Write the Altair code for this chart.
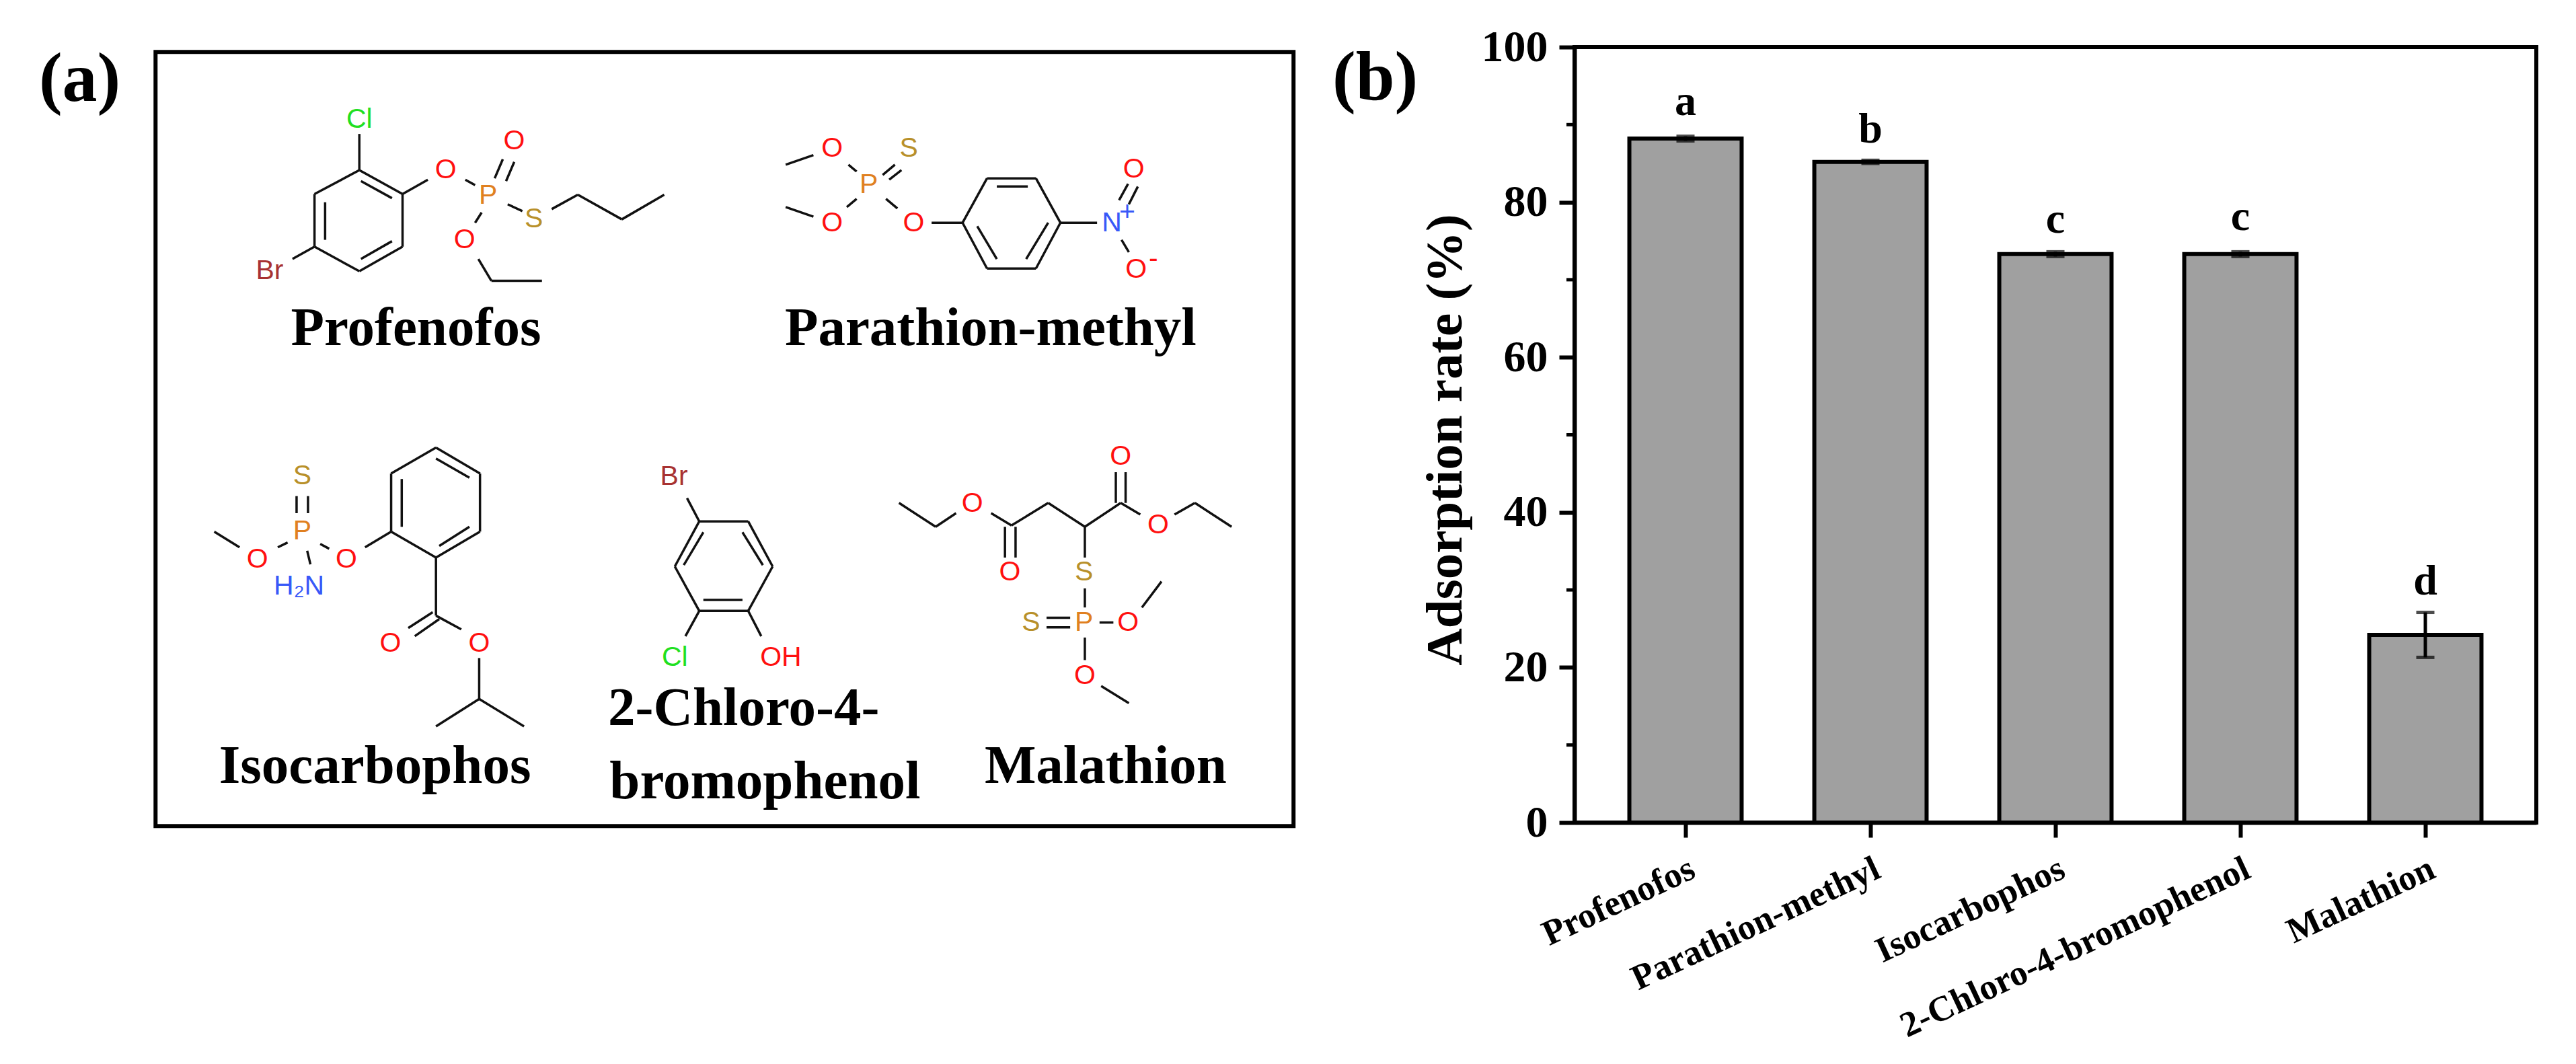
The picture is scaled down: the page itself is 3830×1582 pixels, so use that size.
import altair as alt
import pandas as pd

# ---- panel (b) data ----
compounds = ["Profenofos", "Parathion-methyl", "Isocarbophos", "2-Chloro-4-bromophenol", "Malathion"]
rates = [88.2, 85.2, 73.3, 73.3, 24.2]
errors = [0.3, 0.2, 0.3, 0.3, 2.9]
letters = ["a", "b", "c", "c", "d"]
letter_y = [91.2, 87.7, 76.1, 76.4, 29.4]
major_ticks = [0, 20, 40, 60, 80, 100]
minor_ticks = [10, 30, 50, 70, 90]

# ---- panel (a) data: structural drawing, in its own drawing units ----
bonds = [
    # Profenofos
    (440,248,493,283),(493,283,493,360),(493,360,440,396),(440,396,385,360),(385,360,385,283),(385,283,440,248),
    (442,264,480,289),(480,352,442,378),(398,350,398,295),
    (440,248,440,195),(385,360,358,378),(493,283,524,262),(570,262,582,270),
    (606,260,616,232),(620,264,630,236),(590,310,582,325),(622,298,640,308),
    (676,305,708,284),(708,284,762,320),(762,320,814,284),(586,378,602,410),(602,410,664,410),
    # Parathion-methyl
    (963,240,997,226),(1040,240,1050,250),(1082,255,1097,240),(1090,262,1105,248),
    (963,302,997,316),(1038,302,1050,290),(1086,290,1100,304),(1142,325,1180,325),
    (1180,325,1210,260),(1210,260,1270,260),(1270,260,1300,325),(1300,325,1270,392),(1270,392,1210,392),(1210,392,1180,325),
    (1222,272,1260,272),(1198,330,1222,378),(1285,325,1258,378),
    (1300,325,1345,325),(1372,292,1383,268),(1384,298,1395,272),(1375,350,1384,368),
    # Isocarbophos
    (262,777,293,800),(340,800,352,793),(363,725,363,750),(377,725,377,750),(376,805,380,825),
    (392,795,403,802),(447,800,479,777),
    (534,654,588,692),(588,692,588,777),(588,777,534,815),(534,815,479,777),(479,777,479,692),(479,692,534,654),
    (534,670,575,698),(575,770,538,798),(492,770,492,700),
    (534,815,534,900),(530,895,500,918),(538,905,508,930),(534,900,565,920),(587,962,587,1022),
    (587,1022,534,1062),(587,1022,642,1062),
    # 2-Chloro-4-bromophenol
    (857,762,917,762),(917,762,947,828),(947,828,917,893),(917,893,857,893),(857,893,827,828),(827,828,857,762),
    (838,826,862,778),(935,826,910,778),(862,877,910,877),
    (857,762,842,728),(857,893,840,930),(917,893,933,930),
    # Malathion
    (1102,735,1147,770),(1147,770,1172,750),(1215,750,1240,768),(1232,770,1232,815),(1245,770,1245,815),
    (1240,768,1285,735),(1285,735,1330,770),(1330,770,1374,735),(1368,735,1368,690),(1380,735,1380,690),
    (1374,735,1398,752),(1440,752,1465,735),(1465,735,1510,770),(1330,770,1330,815),(1330,860,1330,888),
    (1283,903,1312,903),(1283,917,1312,917),(1348,910,1365,910),(1400,888,1424,850),(1330,932,1330,965),
    (1350,1003,1384,1028),
]
RED, GREEN, ORANGE, GOLD, BROWN, BLUE = "#ff1010", "#20e020", "#e08020", "#b8902a", "#a83232", "#3858f8"
atoms = [
    ("Cl",440,174,GREEN),("O",546,248,RED),("O",630,206,RED),("P",598,285,ORANGE),("S",654,320,GOLD),("O",569,350,RED),("Br",330,396,BROWN),
    ("O",1020,217,RED),("S",1114,217,GOLD),("P",1065,270,ORANGE),("O",1020,326,RED),("O",1120,326,RED),("N",1363,326,BLUE),("+",1382,310,BLUE),("O",1390,247,RED),("O",1393,394,RED),("-",1414,378,RED),
    ("O",315,818,RED),("P",370,777,ORANGE),("S",370,696,GOLD),("H₂N",366,857,BLUE),("O",424,818,RED),("O",478,941,RED),("O",587,941,RED),
    ("Br",826,697,BROWN),("Cl",827,962,GREEN),("OH",957,962,RED),
    ("O",1192,736,RED),("O",1238,837,RED),("O",1374,667,RED),("O",1420,768,RED),("S",1329,837,GOLD),("P",1329,910,ORANGE),("S",1264,910,GOLD),("O",1383,910,RED),("O",1330,988,RED),
]
names = [
    ("Profenofos",356,504),("Parathion-methyl",962,504),("Isocarbophos",268,1145),
    ("2-Chloro-4-",745,1060),("bromophenol",747,1167),("Malathion",1207,1145),
]
frame = [(190,75,1586,1208)]
panel_a_label = [("(a)",47,147)]

SERIF = "Liberation Serif"
SANS = "Liberation Sans"
SX, SY = 1.212, 1.016
LEFT_W, TOP, BOTTOM = 2000, 69, 1222
PLOT_W, PLOT_H = 1430, BOTTOM - TOP

xs = alt.Scale(domain=[8 / SX, (8 + LEFT_W) / SX], nice=False, zero=False)
ys = alt.Scale(domain=[BOTTOM / SY, TOP / SY], nice=False, zero=False)
X = lambda f: alt.X(f, type="quantitative", scale=xs, axis=None)
Y = lambda f: alt.Y(f, type="quantitative", scale=ys, axis=None)

bond_df = pd.DataFrame(bonds, columns=["x", "y", "x2", "y2"])
atom_df = pd.DataFrame(atoms, columns=["t", "x", "y", "c"])
name_df = pd.DataFrame(names, columns=["t", "x", "y"])
frame_df = pd.DataFrame(frame, columns=["x", "y", "x2", "y2"])
a_df = pd.DataFrame(panel_a_label, columns=["t", "x", "y"])

frame_layer = alt.Chart(frame_df).mark_rect(fill="white", stroke="black", strokeWidth=6).encode(
    x=X("x"), y=Y("y"), x2="x2", y2="y2")
bond_layer = alt.Chart(bond_df).mark_rule(color="#111111", strokeWidth=3.5).encode(
    x=X("x"), y=Y("y"), x2="x2", y2="y2")
atom_layer = alt.Chart(atom_df).mark_text(font=SANS, fontSize=41, align="center", baseline="middle").encode(
    x=X("x"), y=Y("y"), text="t", color=alt.Color("c:N", scale=None))
name_layer = alt.Chart(name_df).mark_text(font=SERIF, fontSize=81, fontWeight="bold", align="left", baseline="alphabetic", color="black").encode(
    x=X("x"), y=Y("y"), text="t")
a_layer = alt.Chart(a_df).mark_text(font=SERIF, fontSize=104, fontWeight="bold", align="left", baseline="alphabetic", color="black").encode(
    x=X("x"), y=Y("y"), text="t")

left = alt.layer(frame_layer, bond_layer, atom_layer, name_layer, a_layer).properties(
    width=LEFT_W, height=PLOT_H, view=alt.ViewBackground(stroke="transparent"))

# ---- panel (b) ----
bar_df = pd.DataFrame({"name": compounds, "rate": rates, "err": errors, "letter": letters, "ly": letter_y})
bar_df["lo"] = bar_df["rate"] - bar_df["err"]
bar_df["hi"] = bar_df["rate"] + bar_df["err"]
minor_df = pd.DataFrame({"v": minor_ticks})

x_band = alt.X("name:N", sort=compounds,
               scale=alt.Scale(paddingInner=0.393, paddingOuter=0.2965),
               axis=alt.Axis(title=None, labelAngle=335, labelAlign="right", labelBaseline="top",
                             labelFont=SERIF, labelFontSize=53, labelFontWeight="bold", labelColor="black",
                             labelLimit=1000, labelOverlap=False, labelPadding=20,
                             tickSize=22, tickWidth=6, tickColor="black", domainWidth=6, domainColor="black", grid=False))
y_scale = alt.Scale(domain=[0, 100], nice=False)
y_main = alt.Y("rate:Q", scale=y_scale,
               axis=alt.Axis(title="Adsorption rate (%)", titleFont=SERIF, titleFontSize=77, titleFontWeight="bold",
                             titleColor="black", titlePadding=14, titleY=PLOT_H / 2 + 7,
                             values=major_ticks, labelFont=SERIF, labelFontSize=66, labelFontWeight="bold",
                             labelColor="black", labelPadding=17, tickSize=23, tickWidth=6, tickColor="black",
                             domainWidth=6, domainColor="black", grid=False, labelOverlap=False))

bars = alt.Chart(bar_df).mark_bar(fill="#a0a0a0", stroke="black", strokeWidth=6).encode(x=x_band, y=y_main)
stems = alt.Chart(bar_df).mark_rule(color="black", strokeWidth=5).encode(
    x=alt.X("name:N", sort=compounds), y=alt.Y("lo:Q", scale=y_scale), y2="hi")
cap_lo = alt.Chart(bar_df).mark_tick(color="black", size=27, thickness=5).encode(
    x=alt.X("name:N", sort=compounds), y=alt.Y("lo:Q", scale=y_scale))
cap_hi = alt.Chart(bar_df).mark_tick(color="black", size=27, thickness=5).encode(
    x=alt.X("name:N", sort=compounds), y=alt.Y("hi:Q", scale=y_scale))
letter_layer = alt.Chart(bar_df).mark_text(font=SERIF, fontSize=64, fontWeight="bold", baseline="alphabetic", align="center", color="black").encode(
    x=alt.X("name:N", sort=compounds), y=alt.Y("ly:Q", scale=y_scale), text="letter")
minor_layer = alt.Chart(minor_df).mark_rule(color="black", strokeWidth=5).encode(
    x=alt.value(-12), x2=alt.value(0), y=alt.Y("v:Q", scale=y_scale))
pb_label = alt.Chart(pd.DataFrame({"t": ["(b)"]})).mark_text(
    font=SERIF, fontSize=104, fontWeight="bold", align="left", baseline="alphabetic", color="black"
).encode(x=alt.value(-360), y=alt.value(147 - TOP), text="t")

right = alt.layer(bars, stems, cap_lo, cap_hi, letter_layer, minor_layer, pb_label).properties(
    width=PLOT_W, height=PLOT_H, view=alt.ViewBackground(stroke="black", strokeWidth=6))

chart = alt.hconcat(left, right, spacing=2340 - 8 - LEFT_W, bounds="flush").properties(
    padding={"left": 0, "top": 26, "right": 0, "bottom": 0}
).configure_view(stroke="transparent").configure(background="white")

chart.save("out.html", embed_options={"renderer": "svg", "actions": False})
